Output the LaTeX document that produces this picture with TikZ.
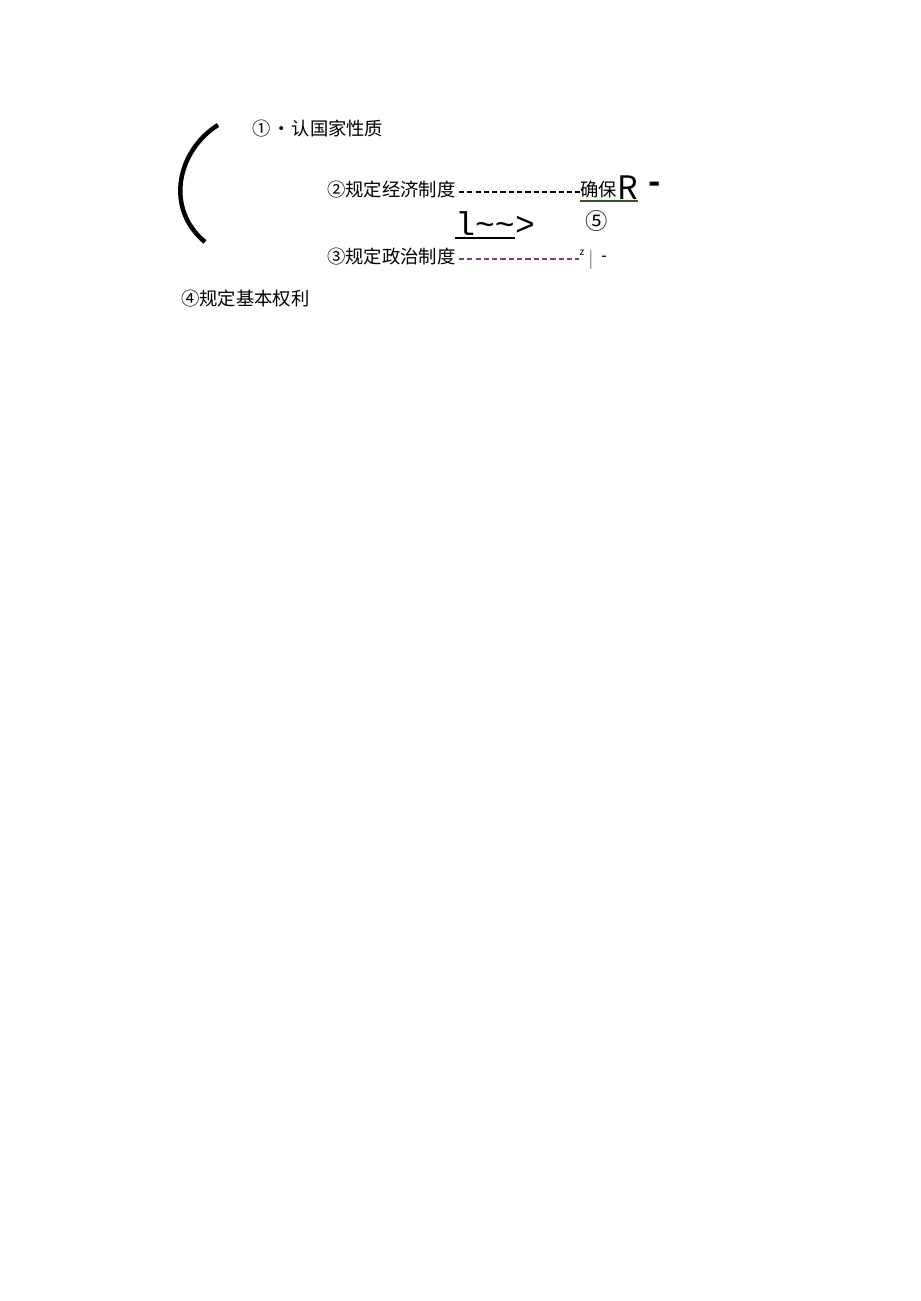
\documentclass[tikz,border=0pt]{standalone}
\usepackage{fontspec}
\setmainfont{Noto Sans CJK SC}
\newfontfamily\monofont{Liberation Mono}
\usetikzlibrary{positioning}
\definecolor{leadpurple}{RGB}{110,70,115}
\definecolor{undergreen}{RGB}{55,85,45}
\begin{document}
\begin{tikzpicture}[x=0.02283cm,y=-0.02283cm]
\tikzset{item/.style={anchor=west,inner sep=0pt,font=\fontsize{11.9}{14}\selectfont},
  leader/.style={dash pattern=on 3.4pt off 2pt,line width=0.85pt},
  bigtxt/.style={inner sep=0pt,font=\fontsize{21}{24}\selectfont},
  monotxt/.style={inner sep=0pt,anchor=base west,font=\monofont\fontsize{21.4}{24}\selectfont}}
\useasboundingbox[fill=white] (0,0) rectangle (920,1301);
% bracket
\draw[line width=2.9pt] (218,125) .. controls (178,150) and (164,208) .. (205,242);
% items
\node[item] (nature) at (252,129) {①\hspace{0.1em}·\hspace{0.05em}认国家性质};
\node[item] (econ) at (327,190) {②规定经济制度};
\node[item] (ensure) at (580,190) {确保};
\node[bigtxt,anchor=base west] (rr) at (617,199) {R};
\node[inner sep=0pt,font=\bfseries\fontsize{21}{24}\selectfont] (dashr) at (655,188) {-};
\node[item] (polit) at (327,257) {③规定政治制度};
\node[item] (rights) at (181,299) {④规定基本权利};
\node[inner sep=0pt,font=\fontsize{14.5}{17}\selectfont] (five) at (597,221) {⑤};
\node[monotxt] (wave) at (455,235) {l\textasciitilde\textasciitilde};
\node[monotxt] (tip) at (wave.base east) {>};
\node[inner sep=0pt,font=\fontsize{6.5}{8}\selectfont] (zmark) at (582,253) {z};
\node[inner sep=0pt,text=gray,font=\fontsize{11}{13}\selectfont] (bar) at (591,260) {|};
\node[inner sep=0pt,font=\fontsize{11}{13}\selectfont] (dashz) at (604,259) {-};
% leaders
\draw[leader] ([yshift=-1.2pt]econ.east) ++(3,0) -- ([yshift=-1.2pt]ensure.west);
\draw[leader,leadpurple] ([yshift=-1.2pt]polit.east) ++(3,0) -- ([yshift=-1.2pt]polit.east -| zmark.west);
% underlines
\draw[undergreen,line width=1pt] (ensure.west |- 0,201) -- (rr.east |- 0,201);
\draw[line width=1.5pt] (wave.west |- 0,238) -- (wave.east |- 0,238);
\end{tikzpicture}
\end{document}
